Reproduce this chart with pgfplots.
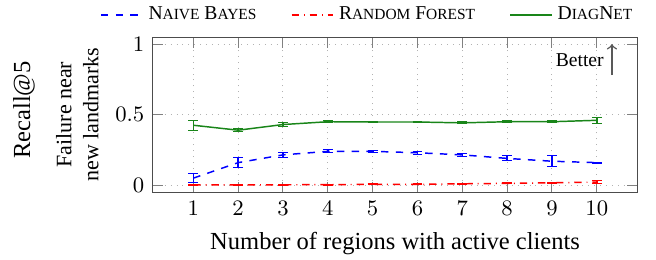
\documentclass[border=0pt]{standalone}
\usepackage{pgfplots}
\pgfplotsset{compat=1.18}
\usepackage{fontspec}
\setmainfont{Liberation Serif}
\newcommand\fsc[1]{{\fontsize{6.3}{7}\selectfont #1}}
\definecolor{dgreen}{rgb}{0.1,0.52,0.1}
\begin{document}
\begin{tikzpicture}
\begin{axis}[
  scale only axis,
  width=197.5pt, height=63.3pt,
  xmin=0.1, xmax=10.9,
  ymin=-0.05, ymax=1.05,
  xtick={1,...,10},
  ytick={0,0.5,1},
  yticklabels={$0$,$0.5$,$1$},
  tick label style={font=\small},
  grid=major,
  grid style={dotted, gray!60},
  axis line style={black!70},
  every tick/.style={black!50},
  xlabel={Number of regions with active clients},
  ylabel={Failure near\\new landmarks},
  ylabel style={align=center, font=\small},
  legend columns=3,
  legend style={draw=none, fill=none, font=\footnotesize, at={(-0.125,1.142)}, anchor=west,
    /tikz/every even column/.append style={column sep=12pt}},
  clip=false,
]
\addlegendimage{blue, dashed, semithick}
\addlegendentry{N\fsc{AIVE} B\fsc{AYES}}
\addlegendimage{red, dashdotted, semithick}
\addlegendentry{R\fsc{ANDOM} F\fsc{OREST}}
\addlegendimage{dgreen, solid, semithick}
\addlegendentry{D\fsc{IAG}N\fsc{ET}}
\addplot[blue, dashed, semithick, forget plot, error bars/.cd, y dir=both, y explicit, error bar style={solid, blue, semithick}]
  coordinates {
  (1,0.05) +- (0,0.03)
  (2,0.16) +- (0,0.035)
  (3,0.215) +- (0,0.02)
  (4,0.24) +- (0,0.01)
  (5,0.24) +- (0,0.008)
  (6,0.23) +- (0,0.01)
  (7,0.215) +- (0,0.012)
  (8,0.19) +- (0,0.018)
  (9,0.17) +- (0,0.04)
  (10,0.16) +- (0,0.003)
};
\addplot[red, dashdotted, semithick, forget plot, error bars/.cd, y dir=both, y explicit, error bar style={solid, red, semithick}]
  coordinates {
  (1,0.003) +- (0,0.005)
  (2,0.002) +- (0,0.003)
  (3,0.003) +- (0,0.003)
  (4,0.004) +- (0,0.003)
  (5,0.006) +- (0,0.003)
  (6,0.006) +- (0,0.003)
  (7,0.01) +- (0,0.003)
  (8,0.013) +- (0,0.004)
  (9,0.017) +- (0,0.004)
  (10,0.022) +- (0,0.01)
};
\addplot[dgreen, solid, semithick, forget plot, error bars/.cd, y dir=both, y explicit, error bar style={dgreen, semithick}]
  coordinates {
  (1,0.425) +- (0,0.035)
  (2,0.39) +- (0,0.012)
  (3,0.43) +- (0,0.012)
  (4,0.45) +- (0,0.006)
  (5,0.448) +- (0,0.006)
  (6,0.448) +- (0,0.006)
  (7,0.442) +- (0,0.008)
  (8,0.45) +- (0,0.006)
  (9,0.45) +- (0,0.008)
  (10,0.46) +- (0,0.022)
};
\draw[->, black!65, semithick] (rel axis cs:0.948,0.755) -- (rel axis cs:0.948,0.955);
\node[anchor=east, font=\footnotesize, inner sep=0pt] at (rel axis cs:0.932,0.852) {Better};
\node[rotate=90, anchor=center] at (rel axis cs:-0.2665,0.53) {Recall@5};
\coordinate (bl) at (rel axis cs:-0.316,-0.432);
\coordinate (tr) at (rel axis cs:1.039,1.239);
\end{axis}
\pgfresetboundingbox
\path (bl) rectangle (tr);
\end{tikzpicture}
\end{document}
